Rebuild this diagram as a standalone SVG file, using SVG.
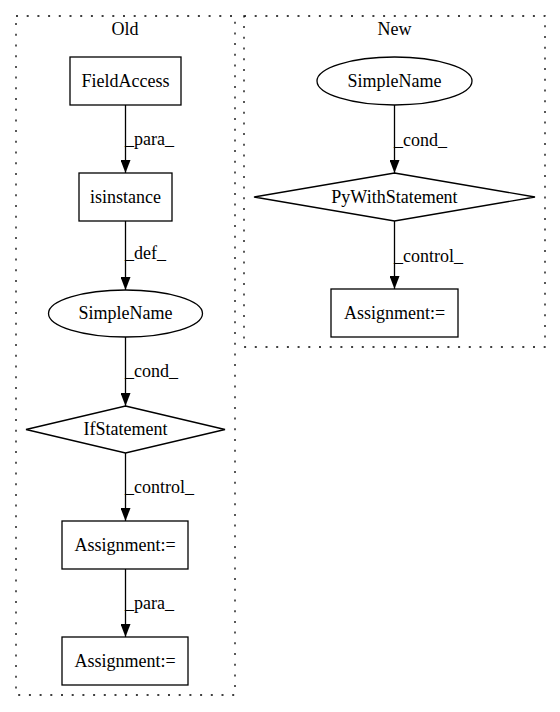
<svg xmlns="http://www.w3.org/2000/svg" width="560" height="712" viewBox="0 0 560 712">
<defs>
<marker id="ah" markerWidth="13" markerHeight="10" refX="13" refY="5" orient="auto" markerUnits="userSpaceOnUse">
<polygon points="0,0 13,5 0,10" fill="#000" stroke="none"/>
</marker>
</defs>
<style>
text{font-family:"Liberation Serif","Times New Roman",serif;font-size:18px;fill:#000}
.c{text-anchor:middle}
.n{fill:#fff;stroke:#000;stroke-width:1.3}
.cl{fill:none;stroke:#000;stroke-width:1.3;stroke-dasharray:2,8.7}
.e{stroke:#000;stroke-width:1.3;fill:none;marker-end:url(#ah)}
</style>
<rect width="560" height="712" fill="#fff"/>
<g id="cluster_old">
<rect class="cl" x="16" y="16" width="219" height="679"/>
<text class="c" x="125" y="35">Old</text>
</g>
<g id="cluster_new">
<rect class="cl" x="244" y="16" width="301" height="331"/>
<text class="c" x="394.5" y="35">New</text>
</g>
<g id="edges">
<line class="e" x1="125.5" y1="105" x2="125.5" y2="173"/>
<text x="125" y="145">_para_</text>
<line class="e" x1="125.5" y1="221" x2="125.5" y2="290"/>
<text x="125" y="259">_def_</text>
<line class="e" x1="125.5" y1="337" x2="125.5" y2="406"/>
<text x="125" y="377">_cond_</text>
<line class="e" x1="125.5" y1="453" x2="125.5" y2="521"/>
<text x="125" y="493">_control_</text>
<line class="e" x1="125.5" y1="569" x2="125.5" y2="637"/>
<text x="125" y="609">_para_</text>
<line class="e" x1="394.5" y1="105" x2="394.5" y2="173"/>
<text x="394" y="146">_cond_</text>
<line class="e" x1="394.5" y1="221" x2="394.5" y2="289"/>
<text x="394" y="262">_control_</text>
</g>
<g id="n_fieldaccess">
<rect class="n" x="70" y="57" width="111" height="48"/>
<text class="c" x="125.5" y="87">FieldAccess</text>
</g>
<g id="n_isinstance">
<rect class="n" x="79" y="173" width="93" height="48"/>
<text class="c" x="125.5" y="203">isinstance</text>
</g>
<g id="n_simplename_old">
<ellipse class="n" cx="125.5" cy="313.5" rx="77" ry="23.5"/>
<text class="c" x="125.5" y="319">SimpleName</text>
</g>
<g id="n_ifstatement">
<polygon class="n" points="125.5,406 225,429.5 125.5,453 26,429.5"/>
<text class="c" x="125.5" y="435">IfStatement</text>
</g>
<g id="n_assign1">
<rect class="n" x="62" y="521" width="126" height="48"/>
<text class="c" x="125" y="551">Assignment:=</text>
</g>
<g id="n_assign2">
<rect class="n" x="62" y="637" width="126" height="48"/>
<text class="c" x="125" y="667">Assignment:=</text>
</g>
<g id="n_simplename_new">
<ellipse class="n" cx="394.5" cy="81" rx="77.5" ry="24"/>
<text class="c" x="394.5" y="87">SimpleName</text>
</g>
<g id="n_pywith">
<polygon class="n" points="394.5,173 535,197 394.5,221 254,197"/>
<text class="c" x="394.5" y="203">PyWithStatement</text>
</g>
<g id="n_assign_new">
<rect class="n" x="331" y="289" width="127" height="48"/>
<text class="c" x="394.5" y="319">Assignment:=</text>
</g>
</svg>
